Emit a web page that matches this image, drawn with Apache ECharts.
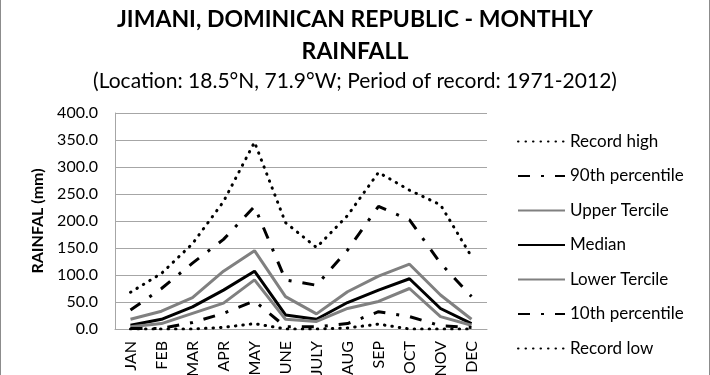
<!DOCTYPE html>
<head>
    <meta charset="utf-8">
    <title>Jimani monthly rainfall</title>
    <script type="text/javascript" src="https://cdn.jsdelivr.net/npm/echarts@6/dist/echarts.min.js"></script>
    <style>
        body { margin: 0; }
        #main { width: 708px; height: 375px; border-left: 1px solid #8c8c8c; border-right: 1px solid #8c8c8c; }
    </style>
</head>

<body>
<div id="main"></div>

<script type="text/javascript">
    // months on the x axis
    var months = ['JAN', 'FEB', 'MAR', 'APR', 'MAY', 'JUNE', 'JULY', 'AUG', 'SEP', 'OCT', 'NOV', 'DEC'];

    // rainfall (mm)
    var recordHigh   = [68, 103, 158, 236, 346, 197, 151, 210, 290, 257, 230, 134];
    var p90          = [35, 75, 122, 166, 227, 91, 81, 146, 227, 202, 122, 60];
    var upperTercile = [18, 33, 58, 107, 145, 60, 28, 69, 98, 120, 63, 18];
    var median       = [7, 18, 41, 72, 107, 26, 18, 49, 72, 93, 38, 10];
    var lowerTercile = [4, 10, 29, 48, 91, 18, 14, 38, 51, 75, 23, 7];
    var p10          = [1, 1, 12, 29, 52, 4, 4, 10, 32, 23, 6, 3];
    var recordLow    = [0, 0, 0, 3, 10, 0, 0, 2, 9, 0, 0, 0];

    var font = 'Lato';

    function line(name, data, color, type, cap) {
        return {
            name: name,
            type: 'line',
            data: data,
            symbol: 'none',
            animation: false,
            lineStyle: { color: color, width: 3, type: type, cap: cap || 'butt' },
            itemStyle: { color: color }
        };
    }

    var myChart = echarts.init(document.getElementById('main'));
    var option = {
        title: {
            text: 'JIMANI, DOMINICAN REPUBLIC - MONTHLY\nRAINFALL',
            subtext: '(Location: 18.5°N, 71.9°W; Period of record: 1971-2012)',
            left: 'center',
            top: -1,
            itemGap: 3,
            textStyle: { fontFamily: font, fontSize: 23, fontWeight: 'bold', color: '#000', lineHeight: 32 },
            subtextStyle: { fontFamily: font, fontSize: 21, color: '#000' }
        },
        legend: {
            orient: 'vertical',
            left: 511,
            top: 128,
            itemWidth: 47,
            itemHeight: 14,
            itemGap: 17.5,
            itemStyle: { opacity: 0 },
            textStyle: { fontFamily: font, fontSize: 17, color: '#000' },
            data: ['Record high', '90th percentile', 'Upper Tercile', 'Median', 'Lower Tercile', '10th percentile', 'Record low']
        },
        grid: { left: 114, right: 222, top: 113, bottom: 46, outerBoundsMode: 'none' },
        xAxis: {
            type: 'category',
            data: months,
            axisLine: { lineStyle: { color: '#a6a6a6', width: 1 } },
            axisTick: { show: false },
            axisLabel: { rotate: 90, fontFamily: font, fontSize: 16, color: '#000', margin: 12 }
        },
        yAxis: {
            type: 'value',
            min: 0,
            max: 400,
            interval: 50,
            name: 'RAINFAL (mm)',
            nameLocation: 'middle',
            nameGap: 64,
            nameTextStyle: { fontFamily: font, fontSize: 16, fontWeight: 'bold', color: '#000' },
            axisLine: { show: true, lineStyle: { color: '#a6a6a6' } },
            axisTick: { show: false },
            splitLine: { lineStyle: { color: '#a6a6a6', width: 1 } },
            axisLabel: {
                fontFamily: font, fontSize: 16, color: '#000', margin: 17,
                formatter: function (v) { return v.toFixed(1); }
            }
        },
        series: [
            line('Record high', recordHigh, '#000', [0.5, 7], 'round'),
            line('90th percentile', p90, '#000', [12, 11, 3, 11]),
            line('Upper Tercile', upperTercile, '#808080', 'solid'),
            line('Median', median, '#000', 'solid'),
            line('Lower Tercile', lowerTercile, '#808080', 'solid'),
            line('10th percentile', p10, '#000', [12, 11, 3, 11]),
            line('Record low', recordLow, '#000', [0.5, 7], 'round')
        ]
    };
    myChart.setOption(option);
</script>
</body>
